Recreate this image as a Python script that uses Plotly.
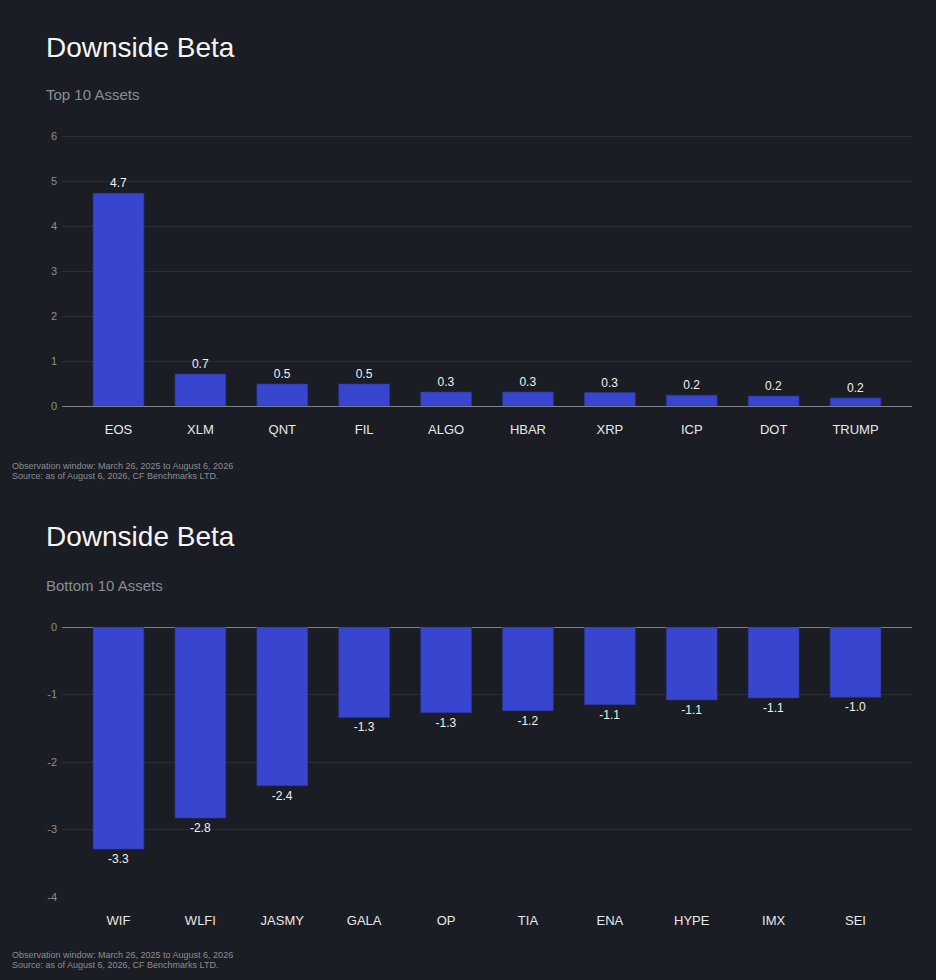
import plotly.graph_objects as go

# Downside beta, top and bottom 10 assets
top_assets = ['EOS', 'XLM', 'QNT', 'FIL', 'ALGO', 'HBAR', 'XRP', 'ICP', 'DOT', 'TRUMP']
top_beta = [4.73, 0.71, 0.49, 0.49, 0.31, 0.31, 0.30, 0.24, 0.22, 0.18]

bottom_assets = ['WIF', 'WLFI', 'JASMY', 'GALA', 'OP', 'TIA', 'ENA', 'HYPE', 'IMX', 'SEI']
bottom_beta = [-3.29, -2.83, -2.35, -1.34, -1.27, -1.24, -1.15, -1.08, -1.05, -1.04]

top_ticks = [0, 1, 2, 3, 4, 5, 6]
bottom_ticks = [-4, -3, -2, -1, 0]

title = 'Downside Beta'
subtitles = ['Top 10 Assets', 'Bottom 10 Assets']
notes = ['Observation window: March 26, 2025 to August 6, 2026',
         'Source: as of August 6, 2026, CF Benchmarks LTD.']

BG = '#1a1d23'
BAR = '#3846cf'
GRID = '#2a2e36'
MUTED = '#8b8e94'
FONT = 'Liberation Sans, Arial, sans-serif'
W, H = 936, 980

fig = go.Figure()

fig.add_trace(go.Bar(x=top_assets, y=top_beta, xaxis='x', yaxis='y',
                     marker=dict(color=BAR, line=dict(color='#2d3893', width=0.6)),
                     texttemplate='%{y:.1f}', textposition='outside',
                     textfont=dict(color='#f2f2f2', size=12), cliponaxis=False,
                     hoverinfo='x+y'))
fig.add_trace(go.Bar(x=bottom_assets, y=bottom_beta, xaxis='x2', yaxis='y2',
                     marker=dict(color=BAR, line=dict(color='#2d3893', width=0.6)),
                     texttemplate='%{y:.1f}', textposition='outside',
                     textfont=dict(color='#f2f2f2', size=12), cliponaxis=False,
                     hoverinfo='x+y'))


def py(px):
    # pixel row (from top) -> paper y
    return 1 - px / H


xdom = [62 / W, 912 / W]
xstyle = dict(domain=xdom, range=[-0.69, 9.69], showgrid=False, zeroline=False,
              showline=False, ticks='', ticklabelstandoff=14, automargin=False,
              tickfont=dict(color='#e8e8e8', size=13))
ystyle = dict(showgrid=True, gridcolor=GRID, gridwidth=1, zeroline=True,
              zerolinecolor='#7d8087', zerolinewidth=1, showline=False,
              ticks='', automargin=False, ticklabelstandoff=4,
              tickfont=dict(color=MUTED, size=11))

fig.update_layout(
    width=W, height=H,
    paper_bgcolor=BG, plot_bgcolor=BG,
    font=dict(family=FONT, color='#f2f2f2'),
    margin=dict(l=0, r=0, t=0, b=0, pad=0, autoexpand=False),
    showlegend=False,
    bargap=0.38,
    xaxis=dict(**xstyle, anchor='y'),
    yaxis=dict(**ystyle, domain=[py(406), py(134)], range=[0, 6.05], anchor='x',
               tickvals=top_ticks, ticktext=[str(t) for t in top_ticks]),
    xaxis2=dict(**xstyle, anchor='y2'),
    yaxis2=dict(**ystyle, domain=[py(897), py(627)], range=[-4, 0], anchor='x2',
                tickvals=bottom_ticks, ticktext=[str(t) for t in bottom_ticks]),
)

# titles, subtitles and footnotes for both panels
for t_px, s_px, n_px, sub in [(47, 95, 466, subtitles[0]), (536, 585, 955, subtitles[1])]:
    fig.add_annotation(text=title, xref='paper', yref='paper', x=44 / W, y=py(t_px),
                       xanchor='left', yanchor='middle', showarrow=False,
                       font=dict(size=28, color='#f5f5f5'))
    fig.add_annotation(text=sub, xref='paper', yref='paper', x=44 / W, y=py(s_px),
                       xanchor='left', yanchor='middle', showarrow=False,
                       font=dict(size=15, color=MUTED))
    for i, note in enumerate(notes):
        fig.add_annotation(text=note, xref='paper', yref='paper', x=10 / W,
                           y=py(n_px + i * 10), xanchor='left', yanchor='middle',
                           showarrow=False, font=dict(size=9, color=MUTED))

# drop the page margin so the figure fills the window
fig.write_html("out.html", config={'displayModeBar': False},
               post_script="document.body.style.margin='0';")
